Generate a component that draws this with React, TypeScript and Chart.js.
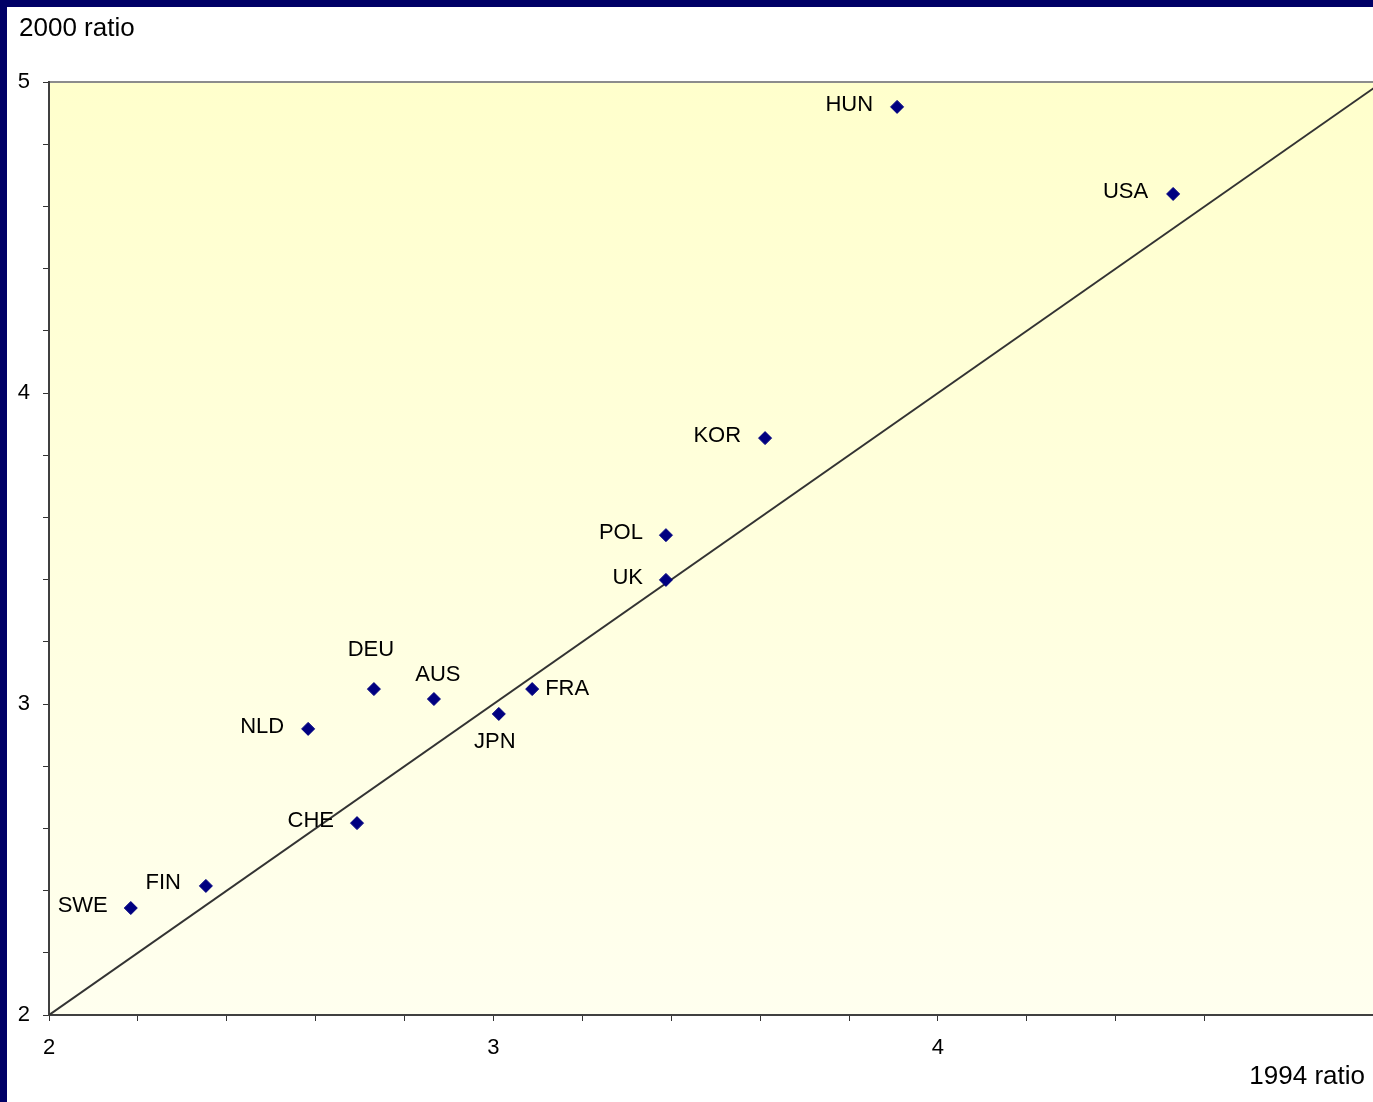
import React, { useEffect, useRef } from "react";
import { Chart, registerables } from "chart.js";

Chart.register(...registerables);

const countries = ["HUN", "USA", "KOR", "POL", "UK", "DEU", "AUS", "FRA", "JPN", "NLD", "CHE", "FIN", "SWE"];
const ratio1994 = [3.908, 4.529, 3.611, 3.388, 3.388, 2.731, 2.866, 3.087, 3.012, 2.583, 2.693, 2.353, 2.184];
const ratio2000 = [4.920, 4.640, 3.855, 3.543, 3.399, 3.048, 3.016, 3.048, 2.968, 2.920, 2.617, 2.415, 2.344];
const equalityLine = [2, 5];
const xTitle = "1994 ratio";
const yTitle = "2000 ratio";

// label placement (style only): [dx, dy, align]
const labelOffsets: [number, number, CanvasTextAlign][] = [
  [-24, -2, "right"],
  [-25, -2, "right"],
  [-24, -2, "right"],
  [-23, -2, "right"],
  [-23, -2, "right"],
  [-3, -39, "center"],
  [4, -24, "center"],
  [13, 0, "left"],
  [-4, 28, "center"],
  [-24, -2, "right"],
  [-23, -2, "right"],
  [-25, -3, "right"],
  [-23, -2, "right"],
];

const FONT = "'Liberation Sans', Arial, sans-serif";
const W = 1373;
const H = 1102;

const isInt = (v: number) => Math.abs(v - Math.round(v)) < 1e-6;

const decor = {
  id: "decor",
  beforeDraw(chart: any) {
    const { ctx, chartArea: a } = chart;
    ctx.save();
    ctx.fillStyle = "#ffffff";
    ctx.fillRect(0, 0, W, H);
    ctx.fillStyle = "#000066";
    ctx.fillRect(0, 0, W, 7);
    ctx.fillRect(0, 0, 7, H);
    const g = ctx.createLinearGradient(0, a.top, 0, a.bottom);
    g.addColorStop(0, "#FFFFCC");
    g.addColorStop(1, "#FFFFEF");
    ctx.fillStyle = g;
    ctx.fillRect(a.left, a.top, a.right - a.left, a.bottom - a.top);
    ctx.strokeStyle = "#8c8c8c";
    ctx.lineWidth = 2;
    ctx.beginPath();
    ctx.moveTo(a.left, a.top);
    ctx.lineTo(a.right, a.top);
    ctx.stroke();
    ctx.fillStyle = "#000";
    ctx.font = `26px ${FONT}`;
    ctx.textBaseline = "middle";
    ctx.textAlign = "left";
    ctx.fillText(yTitle, 19, 29);
    ctx.textAlign = "right";
    ctx.fillText(xTitle, 1365, 1077);
    ctx.restore();
  },
  afterDatasetsDraw(chart: any) {
    const { ctx } = chart;
    const meta = chart.getDatasetMeta(1);
    ctx.save();
    ctx.fillStyle = "#000";
    ctx.font = `22px ${FONT}`;
    ctx.textBaseline = "middle";
    meta.data.forEach((pt: any, i: number) => {
      const [dx, dy, al] = labelOffsets[i];
      ctx.textAlign = al;
      ctx.fillText(countries[i], pt.x + dx, pt.y + dy);
    });
    ctx.restore();
  },
};

export default function App() {
  const ref = useRef<HTMLCanvasElement | null>(null);
  useEffect(() => {
    document.body.style.margin = "0";
    if (!ref.current) return;
    const chart = new Chart(ref.current, {
      type: "scatter",
      data: {
        datasets: [
          {
            type: "line",
            data: equalityLine.map((v) => ({ x: v, y: v })),
            borderColor: "#333333",
            borderWidth: 2,
            pointRadius: 0,
            order: 2,
          } as any,
          {
            data: ratio1994.map((x, i) => ({ x, y: ratio2000[i] })),
            pointStyle: "rectRot",
            pointRadius: 6.5,
            backgroundColor: "#000080",
            borderColor: "#000080",
            borderWidth: 1,
            order: 1,
          },
        ],
      },
      options: {
        animation: false,
        responsive: false,
        devicePixelRatio: 1,
        layout: { autoPadding: false, padding: { left: 7, top: 82, right: 0, bottom: 0 } },
        plugins: { legend: { display: false }, tooltip: { enabled: false } },
        scales: {
          x: {
            type: "linear",
            min: 2,
            max: 4.9787,
            afterBuildTicks: (s: any) => {
              s.ticks = s.ticks.filter((t: any) => isInt(t.value * 5));
            },
            afterFit: (s: any) => {
              s.height = 87;
              s.paddingLeft = 0;
              s.paddingRight = 0;
            },
            ticks: {
              stepSize: 0.2,
              autoSkip: false,
              maxRotation: 0,
              padding: 14,
              color: "#000",
              font: { family: FONT, size: 22 },
              callback: (v: any) => (isInt(Number(v)) ? String(Math.round(Number(v))) : ""),
            },
            grid: { drawOnChartArea: false, drawTicks: true, tickLength: 6, color: "#333" },
            border: { display: true, color: "#404040", width: 2 },
          },
          y: {
            type: "linear",
            min: 2,
            max: 5,
            afterFit: (s: any) => {
              s.width = 42;
              s.paddingTop = 0;
              s.paddingBottom = 0;
            },
            ticks: {
              stepSize: 0.2,
              autoSkip: false,
              padding: 13,
              color: "#000",
              font: { family: FONT, size: 22 },
              callback: (v: any) => (isInt(Number(v)) ? String(Math.round(Number(v))) : ""),
            },
            grid: { drawOnChartArea: false, drawTicks: true, tickLength: 6, color: "#333" },
            border: { display: true, color: "#404040", width: 2 },
          },
        },
      },
      plugins: [decor],
    });
    return () => chart.destroy();
  }, []);
  return (
    <div style={{ position: "absolute", left: 0, top: 0, width: W, height: H }}>
      <canvas ref={ref} width={W} height={H} style={{ display: "block" }} />
    </div>
  );
}
